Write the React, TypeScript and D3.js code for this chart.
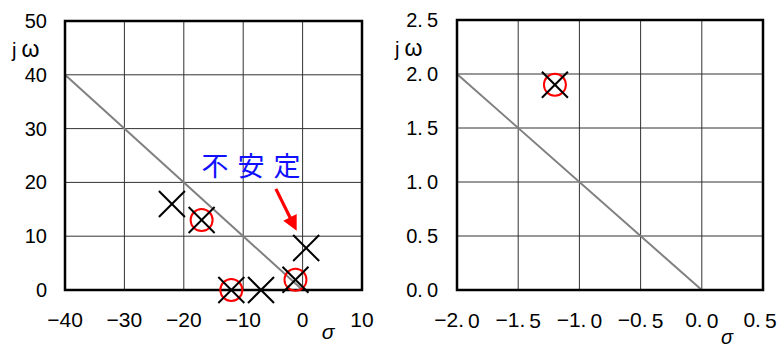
import React from "react";
import * as d3 from "d3";

// Pole / zero locations (s = σ + jω)
const poleRe = [-22, -17, -12, -7, -1.2, 0.6];
const poleIm = [16, 13, 0, 0, 1.9, 7.8];
const zeroRe = [-17, -12, -1.2];
const zeroIm = [13, 0, 1.9];

// Damping reference line ζ = 1/√2 (σ = −ω)
const dampRe = [-40, 0];
const dampIm = [40, 0];

// Axis ticks
const leftXTicks = [-40, -30, -20, -10, 0, 10];
const leftYTicks = [0, 10, 20, 30, 40, 50];
const rightXTicks = [-2, -1.5, -1, -0.5, 0, 0.5];
const rightYTicks = [0, 0.5, 1, 1.5, 2, 2.5];

// Annotation
const noteText = "不安定";
const noteAt = [-8.7, 23.4];
const arrowFrom = [-4.5, 18.8];
const arrowTo = [-1.0, 11.0];

const FONT = "'Liberation Sans', Arial, sans-serif";
const CJK = "'Noto Sans CJK JP', sans-serif";
const WIDTH = 777;
const HEIGHT = 347;

function tickText(v: number, decimals: number) {
  const s = d3.format(decimals ? ".1f" : "d")(Math.abs(v));
  const sign = v < 0 ? "\u2212" : "";
  if (!decimals) return <>{sign + s}</>;
  const [a, b] = s.split(".");
  return (
    <>
      {sign + a + "."}
      <tspan dx={4}>{b}</tspan>
    </>
  );
}

function Panel(props: {
  x0: number; x1: number; y0: number; y1: number;
  xDom: [number, number]; yDom: [number, number];
  xTicks: number[]; yTicks: number[]; decimals: number;
  yLabelRight: number; jwX: number; jwY: number;
  sigmaX: number; sigmaY: number; sigmaSize: number;
  pr: number[]; pi: number[]; zr: number[]; zi: number[];
  dr: number[]; di: number[];
  note?: boolean;
}) {
  const x = d3.scaleLinear().domain(props.xDom).range([props.x0, props.x1]);
  const y = d3.scaleLinear().domain(props.yDom).range([props.y1, props.y0]);
  const line = d3.line<number>().x((_, i) => x(props.dr[i])).y((_, i) => y(props.di[i]));
  const h = 13;
  const r = 11;

  let arrow = null;
  if (props.note) {
    const ax0 = x(arrowFrom[0]), ay0 = y(arrowFrom[1]);
    const ax1 = x(arrowTo[0]), ay1 = y(arrowTo[1]);
    const len = Math.hypot(ax1 - ax0, ay1 - ay0);
    const ux = (ax1 - ax0) / len, uy = (ay1 - ay0) / len;
    const hl = 15, hw = 7.5;
    const bx = ax1 - ux * hl, by = ay1 - uy * hl;
    arrow = (
      <g>
        <line x1={ax0} y1={ay0} x2={bx + ux} y2={by + uy} stroke="#ff0000" strokeWidth={3.2} />
        <polygon
          points={`${ax1},${ay1} ${bx - uy * hw},${by + ux * hw} ${bx + uy * hw},${by - ux * hw}`}
          fill="#ff0000"
        />
        <text
          x={x(noteAt[0])}
          y={y(noteAt[1])}
          fill="#1010ff"
          fontFamily={CJK}
          fontSize={27}
          letterSpacing={9}
          textAnchor="middle"
          dominantBaseline="central"
          dx={4.5}
        >
          {noteText}
        </text>
      </g>
    );
  }

  return (
    <g>
      {props.xTicks.slice(1, -1).map((t) => (
        <line key={"gx" + t} x1={x(t)} x2={x(t)} y1={props.y0} y2={props.y1} stroke="#333" strokeWidth={1} />
      ))}
      {props.yTicks.slice(1, -1).map((t) => (
        <line key={"gy" + t} y1={y(t)} y2={y(t)} x1={props.x0} x2={props.x1} stroke="#333" strokeWidth={1} />
      ))}
      <path d={line(props.dr) || ""} stroke="#808080" strokeWidth={2} fill="none" />
      <rect
        x={props.x0}
        y={props.y0}
        width={props.x1 - props.x0}
        height={props.y1 - props.y0}
        fill="none"
        stroke="#000"
        strokeWidth={2.5}
      />
      {props.xTicks.map((t) => (
        <text
          key={"tx" + t}
          x={Math.min(x(t), WIDTH - 17)}
          y={319.5}
          fontFamily={FONT}
          fontSize={21}
          textAnchor="middle"
          dominantBaseline="central"
          fill="#000"
        >
          {tickText(t, props.decimals)}
        </text>
      ))}
      {props.yTicks.map((t) => (
        <text key={"ty" + t} x={props.yLabelRight} y={y(t)} fontFamily={FONT} fontSize={20} textAnchor="end" dominantBaseline="central" fill="#000">
          {tickText(t, props.decimals)}
        </text>
      ))}
      <text x={props.jwX} y={props.jwY} fontFamily={FONT} fontSize={20} fill="#000">
        j<tspan dx={5} fontSize={23}>ω</tspan>
      </text>
      <text
        x={props.sigmaX}
        y={props.sigmaY}
        fontFamily={FONT}
        fontSize={props.sigmaSize}
        fontStyle="italic"
        textAnchor="middle"
        dominantBaseline="central"
        fill="#000"
      >
        σ
      </text>
      {props.zr.map((v, i) => (
        <circle key={"z" + i} cx={x(v)} cy={y(props.zi[i])} r={r} fill="none" stroke="#ff0000" strokeWidth={2} />
      ))}
      {props.pr.map((v, i) => {
        const cx = x(v), cy = y(props.pi[i]);
        if (cx < props.x0 - 1 || cx > props.x1 + 1 || cy < props.y0 - 1 || cy > props.y1 + 1) return null;
        return (
          <g key={"p" + i} stroke="#000" strokeWidth={2}>
            <line x1={cx - h} y1={cy - h} x2={cx + h} y2={cy + h} />
            <line x1={cx - h} y1={cy + h} x2={cx + h} y2={cy - h} />
          </g>
        );
      })}
      {arrow}
    </g>
  );
}

export default function App() {
  return (
    <svg
      width={WIDTH}
      height={HEIGHT}
      style={{ position: "absolute", left: 0, top: 0, background: "#fff" }}
    >
      <rect width={WIDTH} height={HEIGHT} fill="#fff" />
      <Panel
        x0={65} x1={362} y0={21} y1={290}
        xDom={[-40, 10]} yDom={[0, 50]}
        xTicks={leftXTicks} yTicks={leftYTicks} decimals={0}
        yLabelRight={47} jwX={12} jwY={57}
        sigmaX={328} sigmaY={331} sigmaSize={21}
        pr={poleRe} pi={poleIm} zr={zeroRe} zi={zeroIm}
        dr={dampRe} di={dampIm}
        note
      />
      <Panel
        x0={457} x1={763} y0={20} y1={290}
        xDom={[-2, 0.5]} yDom={[0, 2.5]}
        xTicks={rightXTicks} yTicks={rightYTicks} decimals={1}
        yLabelRight={438} jwX={395} jwY={56}
        sigmaX={727} sigmaY={336.5} sigmaSize={20}
        pr={poleRe} pi={poleIm} zr={zeroRe} zi={zeroIm}
        dr={dampRe.map((v) => v / 20)} di={dampIm.map((v) => v / 20)}
      />
    </svg>
  );
}
